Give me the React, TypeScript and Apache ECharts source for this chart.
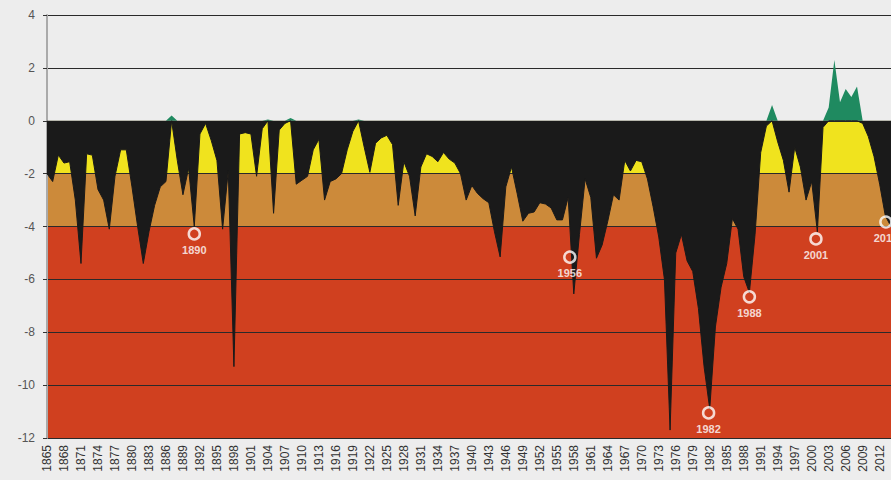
import React, { useEffect, useRef } from "react";
import * as echarts from "echarts";

const START_YEAR = 1865;
const END_YEAR = 2014;
const years: string[] = [];
for (let y = START_YEAR; y <= END_YEAR; y++) years.push(String(y));

// 1865 .. 2014
const values: number[] = [
  -2.0, -2.3, -1.3, -1.6, -1.55, -3.0, -5.4, -1.25, -1.3, -2.6, // 1865-1874
  -3.0, -4.1, -2.1, -1.1, -1.1, -2.5, -4.0, -5.4, -4.2, -3.2, // 1875-1884
  -2.5, -2.3, 0.2, -1.5, -2.8, -1.8, -4.0, -0.5, -0.1, -0.75, // 1885-1894
  -1.5, -4.1, -1.9, -9.3, -0.5, -0.45, -0.5, -2.1, -0.3, 0.05, // 1895-1904
  -3.5, -0.35, -0.1, 0.1, -2.4, -2.25, -2.1, -1.1, -0.7, -3.0, // 1905-1914
  -2.3, -2.2, -2.0, -1.1, -0.4, 0.05, -1.0, -1.95, -0.85, -0.65, // 1915-1924
  -0.55, -0.9, -3.2, -1.55, -2.1, -3.6, -1.75, -1.25, -1.35, -1.55, // 1925-1934
  -1.2, -1.45, -1.6, -2.0, -3.0, -2.45, -2.75, -2.95, -3.1, -4.2, // 1935-1944
  -5.15, -2.5, -1.75, -2.75, -3.8, -3.5, -3.45, -3.1, -3.15, -3.3, // 1945-1954
  -3.75, -3.75, -2.9, -6.55, -4.3, -2.2, -2.9, -5.2, -4.7, -3.8, // 1955-1964
  -2.8, -3.0, -1.5, -1.9, -1.5, -1.55, -2.2, -3.25, -4.4, -6.0, // 1965-1974
  -11.7, -5.0, -4.3, -5.3, -5.7, -7.1, -9.3, -10.9, -7.8, -6.3, // 1975-1984
  -5.4, -3.7, -4.1, -5.9, -6.5, -4.3, -1.2, -0.2, 0.6, -0.8, // 1985-1994
  -1.5, -2.7, -1.0, -1.75, -3.0, -2.3, -4.2, -0.25, 0.5, 2.3, // 1995-2004
  0.7, 1.2, 0.9, 1.3, -0.1, -0.6, -1.35, -2.4, -3.6, -4.0, // 2005-2014
];

const markerLabels: string[] = ["1890", "1956", "1982", "1988", "2001", "2013"];
const markerX: number[] = [1891.0, 1957.3, 1981.8, 1989.0, 2000.75, 2013.1];
const markerY: number[] = [-4.28, -5.16, -11.05, -6.66, -4.47, -3.83];

const yTicks = { min: -12, max: 4, interval: 2 };

const BG = "#ededed";
const RED = "#d0401f";
const ORANGE = "#cc8a3a";
const YELLOW = "#f0e31e";
const BLACK = "#1a1a1a";
const GREEN = "#1f8a60";

export default function App() {
  const ref = useRef<HTMLDivElement>(null);
  useEffect(() => {
    if (!ref.current) return;
    const chart = echarts.init(ref.current, null, { renderer: "svg" });
    const negPart = values.map((v) => Math.min(v, 0));
    const posPart = values.map((v) => Math.max(v, 0));
    chart.setOption({
      animation: false,
      backgroundColor: BG,
      textStyle: { fontFamily: "Liberation Sans, Arial, sans-serif" },
      grid: { left: 47, top: 15, width: 847, height: 423, containLabel: false },
      xAxis: [
        {
          type: "category",
          data: years,
          boundaryGap: false,
          axisLine: { show: false },
          axisTick: { show: false },
          splitLine: { show: false },
          axisLabel: {
            interval: 2,
            rotate: 90,
            fontSize: 12,
            color: "#333",
            margin: 7,
          },
        },
        {
          type: "value",
          min: START_YEAR,
          max: END_YEAR,
          show: false,
          axisLine: { show: false },
          axisTick: { show: false },
          axisLabel: { show: false },
          splitLine: { show: false },
        },
      ],
      yAxis: {
        type: "value",
        min: yTicks.min,
        max: yTicks.max,
        interval: yTicks.interval,
        axisLine: { show: true, lineStyle: { color: "#aaa", width: 2 } },
        axisTick: { show: true, length: 4, lineStyle: { color: "#333" } },
        axisLabel: { fontSize: 12, color: "#555", margin: 12 },
        splitLine: { show: true, lineStyle: { color: "#2a2a2a", width: 1 } },
        splitArea: {
          show: true,
          areaStyle: {
            color: [RED, RED, RED, RED, ORANGE, YELLOW, BG, BG],
            opacity: 1,
          },
        },
      },
      series: [
        {
          type: "line",
          data: posPart,
          symbol: "none",
          lineStyle: { width: 0, color: GREEN },
          itemStyle: { color: GREEN },
          areaStyle: { color: GREEN, opacity: 1 },
          z: 3,
        },
        {
          type: "line",
          data: negPart,
          symbol: "none",
          lineStyle: { width: 1, color: BLACK },
          itemStyle: { color: BLACK },
          areaStyle: { color: BLACK, opacity: 1 },
          z: 4,
        },
        {
          type: "scatter",
          xAxisIndex: 1,
          data: markerX.map((x, i) => ({ value: [x, markerY[i]], name: markerLabels[i] })),
          symbol: "circle",
          symbolSize: 11,
          itemStyle: { color: "rgba(0,0,0,0)", borderColor: "#fff", borderWidth: 2.5 },
          label: {
            show: true,
            position: "bottom",
            distance: 4,
            formatter: (p: any) => p.name,
            color: "#fff",
            fontSize: 11,
            fontWeight: "bold",
          },
          z: 5,
        },
      ],
    });
    return () => chart.dispose();
  }, []);
  return (
    <div
      ref={ref}
      style={{ position: "fixed", left: 0, top: 0, width: 891, height: 480 }}
    />
  );
}
